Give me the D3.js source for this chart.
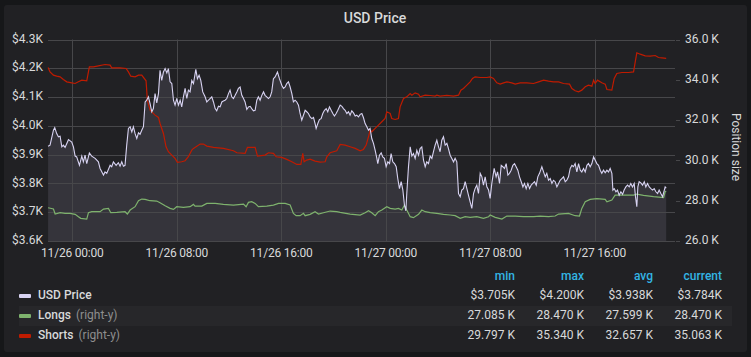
<!DOCTYPE html>
<html><head><meta charset="utf-8">
<script src="https://cdn.jsdelivr.net/npm/d3@7"></script>
<style>
html,body{margin:0;padding:0;background:#161719;}
svg{display:block;font-family:Roboto,"Noto Sans",sans-serif;}
</style></head>
<body><svg id="chart" width="751" height="357"></svg>
<script>
// ---------------- data (hours since 11/26 00:00, value) ----------------
const baseTime = Date.UTC(2021, 10, 26, 0, 0);
const windowStart = Date.UTC(2021, 10, 25, 22, 8);
const windowEnd = Date.UTC(2021, 10, 27, 22, 8);

const usdPrice = [
[-1.86,3929],[-1.71,3933],[-1.45,3985],[-1.35,3994],[-1.20,3973],[-1.07,3962],[-0.94,3964],[-0.81,3927],[-0.69,3933],[-0.56,3925],[-0.30,3952],[-0.05,3944],[0.08,3927],[0.21,3895],[0.33,3892],[0.54,3863],[0.72,3895],[0.84,3875],[0.97,3898],[1.10,3869],[1.30,3906],[1.48,3895],[1.74,3887],[1.99,3875],[2.12,3852],[2.38,3829],[2.50,3840],[2.63,3835],[2.89,3863],[3.01,3858],[3.14,3875],[3.35,3863],[3.52,3872],[3.65,3860],[3.78,3875],[3.91,3860],[4.03,3863],[4.16,3933],[4.29,3991],[4.42,3997],[4.55,3979],[4.67,3997],[4.80,3973],[4.93,3956],[5.06,3976],[5.18,3971],[5.31,3985],[5.44,3997],[5.57,4083],[5.69,4089],[5.82,4101],[5.95,4077],[6.08,4049],[6.20,4060],[6.33,4112],[6.46,4080],[6.59,4112],[6.71,4193],[6.84,4158],[6.97,4187],[7.10,4199],[7.23,4184],[7.35,4199],[7.48,4153],[7.61,4147],[7.74,4089],[7.86,4072],[7.99,4095],[8.12,4072],[8.25,4089],[8.37,4066],[8.50,4101],[8.63,4130],[8.76,4095],[8.88,4124],
[9.01,4118],[9.14,4158],[9.27,4147],[9.45,4196],[9.57,4164],[9.70,4176],[9.83,4158],[9.98,4118],[10.16,4101],[10.29,4083],[10.42,4089],[10.54,4095],[10.67,4101],[10.80,4083],[10.93,4060],[11.05,4052],[11.18,4068],[11.31,4066],[11.44,4083],[11.56,4086],[11.69,4089],[11.82,4095],[11.95,4112],[12.07,4124],[12.20,4101],[12.33,4095],[12.46,4106],[12.59,4118],[12.71,4130],[12.84,4135],[12.97,4106],[13.10,4095],[13.22,4083],[13.35,4057],[13.48,4066],[13.61,4068],[13.73,4060],[13.86,4052],[13.99,4054],[14.12,4089],[14.24,4101],[14.37,4089],[14.50,4106],[14.63,4118],[14.75,4106],[14.88,4101],[15.01,4095],[15.14,4101],[15.26,4118],[15.39,4164],[15.52,4170],[15.70,4187],[15.85,4164],[16.03,4141],[16.16,4130],[16.29,4135],[16.41,4147],[16.54,4153],[16.67,4135],[16.80,4112],[16.92,4083],[17.05,4089],[17.18,4083],[17.31,4072],[17.43,4043],[17.56,4020],[17.69,4037],[17.82,4054],[17.94,4049],[18.07,4043],[18.20,4031],[18.33,4025],[18.46,4029],[18.58,4008],[18.66,3991],[18.79,4008],[18.91,4022],[19.04,4025],[19.17,4043],[19.30,4054],[19.43,4060],[19.55,4049],[19.68,4066],[19.81,4054],[19.94,4043],[20.06,4034],[20.19,4043],[20.32,4054],
[20.50,4072],[20.63,4068],[20.75,4060],[20.88,4054],[21.01,4043],[21.14,4049],[21.26,4037],[21.39,4052],[21.52,4045],[21.65,4034],[21.77,4037],[21.90,4031],[22.03,4040],[22.16,4043],[22.28,4029],[22.41,4008],[22.54,3997],[22.67,3985],[22.79,3991],[22.92,3956],[23.05,3939],[23.18,3915],[23.31,3887],[23.38,3869],[23.51,3898],[23.64,3906],[23.76,3892],[23.89,3887],[24.02,3858],[24.15,3875],[24.28,3869],[24.40,3904],[24.53,3875],[24.66,3869],[24.79,3858],[24.91,3817],[25.04,3782],[25.17,3806],[25.30,3777],[25.42,3725],[25.53,3705],[25.60,3765],[25.73,3858],[25.86,3927],[25.99,3895],[26.11,3904],[26.24,3887],[26.37,3915],[26.50,3898],[26.62,3921],[26.75,3927],[26.88,3881],[27.01,3858],[27.13,3875],[27.26,3869],[27.39,3895],[27.52,3887],[27.64,3910],[27.77,3933],[27.90,3950],[28.03,3927],[28.15,3910],[28.28,3950],[28.41,3962],[28.54,3933],[28.67,3939],[28.79,3921],[28.92,3898],[29.05,3887],[29.18,3875],[29.30,3887],[29.43,3875],[29.56,3765],[29.69,3754],[29.81,3777],[29.94,3782],[30.07,3806],[30.20,3782],[30.32,3759],[30.45,3736],[30.58,3713],[30.71,3765],[30.83,3782],[30.96,3794],[31.09,3765],[31.22,3835],[31.35,3823],[31.47,3794],[31.60,3823],[31.73,3788],[31.86,3777],
[31.98,3748],[32.11,3800],[32.29,3852],[32.44,3823],[32.55,3840],[32.70,3800],[32.83,3863],[32.95,3858],[33.08,3852],[33.21,3869],[33.34,3829],[33.46,3835],[33.59,3846],[33.72,3863],[33.85,3869],[33.97,3858],[34.10,3846],[34.23,3823],[34.36,3806],[34.49,3788],[34.61,3800],[34.74,3782],[34.87,3800],[35.00,3782],[35.12,3794],[35.25,3800],[35.38,3806],[35.51,3794],[35.63,3823],[35.76,3835],[35.94,3858],[36.07,3840],[36.20,3823],[36.32,3835],[36.45,3811],[36.58,3817],[36.71,3800],[36.83,3811],[36.96,3806],[37.09,3788],[37.22,3800],[37.34,3811],[37.47,3817],[37.60,3823],[37.73,3806],[37.85,3811],[37.98,3823],[38.11,3852],[38.24,3863],[38.36,3858],[38.49,3869],[38.62,3840],[38.75,3869],[38.88,3846],[39.00,3840],[39.13,3852],[39.26,3840],[39.39,3863],[39.51,3869],[39.64,3858],[39.77,3869],[39.90,3892],[40.02,3881],[40.15,3869],[40.28,3863],[40.41,3846],[40.53,3835],[40.66,3846],[40.79,3837],[40.92,3846],[41.04,3840],[41.17,3852],[41.30,3835],[41.38,3777],[41.48,3782],[41.61,3771],[41.73,3777],[41.86,3759],[41.99,3771],[42.12,3762],[42.24,3777],[42.37,3788],[42.50,3794],[42.63,3788],[42.75,3800],[42.88,3788],[43.01,3800],[43.11,3754],[43.21,3719],[43.29,3788],[43.39,3806],[43.52,3802],[43.65,3794],[43.78,3806],[43.90,3788],[44.03,3800],[44.16,3788],[44.29,3782],[44.41,3777],[44.54,3782],[44.67,3771],[44.80,3765],[44.92,3777],[45.05,3765],[45.18,3754],[45.26,3767],[45.38,3788],[45.46,3784]
];

const longs = [
[-1.86,27652],[-1.45,27586],[-1.32,27338],[-0.94,27404],[-0.56,27371],[-0.18,27371],[0.21,27322],[0.46,27206],[0.64,27124],[1.10,27090],[1.23,27404],[1.48,27454],[2.12,27454],[2.38,27586],[2.76,27619],[2.94,27404],[3.40,27421],[4.03,27454],[4.21,27338],[4.42,27536],[4.80,27702],[5.06,27999],[5.31,28082],[5.57,28065],[5.95,27999],[6.46,27983],[6.71,27900],[7.10,27751],[7.48,27619],[7.74,27570],[7.99,27702],[8.50,27669],[9.01,27702],
[9.27,27817],[9.39,27735],[9.91,27735],[10.29,27867],[10.93,27867],[11.56,27817],[12.33,27784],[13.10,27834],[13.30,27702],[13.48,27916],[13.73,27949],[13.99,27867],[14.24,27702],[14.88,27735],[15.39,27784],[15.78,27867],[16.29,27867],[16.67,27784],[16.92,27371],[17.13,27256],[17.43,27256],[17.69,27371],[17.82,27256],[18.20,27322],[18.58,27454],[18.84,27338],[19.22,27404],[19.73,27487],[20.24,27454],
[20.50,27421],[21.26,27338],[22.03,27289],[22.41,27404],[22.67,27503],[22.92,27404],[23.18,27256],[23.43,27454],[23.69,27536],[24.07,27702],[24.33,27619],[24.71,27586],[24.96,27619],[25.22,27536],[25.42,27784],[25.60,27536],[25.86,27206],[26.11,27157],[26.50,27322],[26.75,27536],[27.01,27454],[27.39,27404],[27.90,27371],[28.41,27322],[28.92,27289],[29.30,27256],[29.69,27124],[30.07,27206],[30.45,27173],[30.96,27206],[31.47,27124],[31.86,27206],
[31.98,27289],[32.37,27173],[32.88,27090],[33.26,27239],[33.90,27239],[34.54,27206],[35.30,27206],[35.81,27239],[36.45,27206],[36.96,27239],[37.22,27338],[37.98,27371],[38.49,27256],[38.82,27239],[39.00,27619],[39.26,27949],[39.64,28065],[40.15,28099],[40.79,28065],[40.92,27949],[41.30,28032],[41.55,28280],[42.19,28280],[42.96,28280],[43.21,28330],[43.72,28264],[44.49,28198],[45.26,28148],[45.38,28445],[45.46,28470]
];

const shorts = [
[-1.86,34610],[-1.71,34395],[-1.45,34230],[-1.20,34180],[-0.94,34147],[-0.69,34015],[-0.43,33899],[-0.05,33850],[0.21,33817],[0.46,33899],[0.72,33982],[1.10,33949],[1.30,34643],[1.61,34643],[1.99,34693],[2.50,34759],[2.89,34726],[3.01,34593],[3.65,34593],[4.11,34560],[4.29,34395],[4.47,34180],[4.80,34147],[5.06,34230],[5.31,34230],[5.64,33949],[5.74,32990],[5.95,32495],[6.33,32247],[6.59,32131],[6.71,31833],[6.97,31338],[7.17,30677],[7.35,30429],[7.61,30263],[7.86,30098],[8.04,29900],[8.37,29933],[8.63,29983],[8.88,30181],[9.14,30511],
[9.27,30594],[9.78,30809],[10.03,30809],[10.29,30709],[10.80,30644],[11.56,30594],[12.33,30478],[12.59,30379],[13.22,30346],[13.40,30644],[13.99,30644],[14.17,30214],[14.75,30263],[15.01,30379],[15.39,30346],[15.60,30181],[16.03,30148],[16.41,30049],[16.80,29933],[17.18,29801],[17.49,29801],[17.64,30346],[17.74,29933],[17.94,30016],[18.20,30065],[18.58,29966],[18.97,29917],[19.35,29933],[19.48,30181],[19.73,30379],[20.24,30478],
[20.50,30792],[20.88,30759],[21.26,30677],[21.65,30594],[22.03,30478],[22.28,30544],[22.49,30759],[22.67,31172],[22.79,31503],[22.92,31420],[23.18,31586],[23.43,31751],[23.69,31916],[23.94,32081],[24.07,32412],[24.33,32329],[24.45,32081],[24.71,32032],[24.96,32081],[25.09,32660],[25.35,33073],[25.60,33156],[25.86,33321],[25.99,33238],[26.24,33354],[26.50,33288],[26.62,33156],[27.01,33238],[27.39,33222],[27.77,33189],[27.90,33238],[28.15,33189],[28.67,33222],[29.18,33189],[29.56,33238],[29.74,33486],[29.94,33569],[30.20,33734],[30.45,33899],[30.63,34065],[30.83,34147],[31.22,34114],[31.73,34114],
[31.98,34147],[32.24,34065],[32.49,33850],[32.75,33784],[33.01,33850],[33.26,33899],[33.64,33850],[33.90,33784],[34.28,33850],[34.79,33850],[35.30,33817],[35.69,33899],[36.07,33982],[36.45,33932],[36.83,33899],[37.22,33899],[37.60,33817],[38.06,33784],[38.24,33569],[38.49,33453],[38.75,33403],[39.00,33486],[39.26,33652],[39.51,33734],[39.77,33685],[39.90,33982],[40.02,33817],[40.20,33982],[40.53,33850],[40.79,33784],[40.92,33519],[41.30,33486],[41.48,34065],[41.68,34313],[42.07,34362],[42.58,34362],[42.96,34395],[43.09,34891],[43.21,35340],[43.47,35271],[43.85,35188],[44.24,35172],[44.62,35205],[44.87,35106],[45.13,35089],[45.46,35063]
];

const leftTicks = [3600, 3700, 3800, 3900, 4000, 4100, 4200, 4300];
const rightTicks = [26000, 28000, 30000, 32000, 34000, 36000];

const legendNames = ["USD Price", "Longs", "Shorts"];
const legendSuffix = ["", "(right-y)", "(right-y)"];
const legendColors = ["#d8d3f2", "#7eb26d", "#bf1b00"];
const legendHeaders = ["min", "max", "avg", "current"];
const legendMin = ["$3.705K", "27.085 K", "29.797 K"];
const legendMax = ["$4.200K", "28.470 K", "35.340 K"];
const legendAvg = ["$3.938K", "27.599 K", "32.657 K"];
const legendCurrent = ["$3.784K", "28.470 K", "35.063 K"];

// ---------------- drawing ----------------
const svg = d3.select("#chart");
const plot = {left: 48, right: 675, top: 39.5, bottom: 241};
const toDate = h => new Date(baseTime + h * 3600000);

svg.append("rect").attr("x", 4).attr("y", 5).attr("width", 743).attr("height", 347)
  .attr("rx", 3).attr("fill", "#212124");

svg.append("text").attr("x", 375).attr("y", 19).attr("text-anchor", "middle")
  .attr("dominant-baseline", "middle").attr("fill", "#d8d9da")
  .attr("font-size", 14).attr("font-weight", 500).text("USD Price");

const x = d3.scaleUtc().domain([new Date(windowStart), new Date(windowEnd)]).range([plot.left, plot.right]);
const yL = d3.scaleLinear().domain([3600, 4300]).range([plot.bottom, plot.top]);
const yR = d3.scaleLinear().domain([26000, 36000]).range([plot.bottom, plot.top]);

const gridColor = "#47474a";
const xTicks = x.ticks(d3.utcHour.every(8));

const area = d3.area().x(d => x(toDate(d[0]))).y0(plot.bottom).y1(d => yL(d[1]));
svg.append("path").datum(usdPrice).attr("d", area).attr("fill", "#d8d3f2").attr("fill-opacity", 0.11);

const grid = svg.append("g");
grid.selectAll("line.h").data(leftTicks).join("line")
  .attr("x1", plot.left).attr("x2", plot.right)
  .attr("y1", d => Math.round(yL(d)) + 0.5).attr("y2", d => Math.round(yL(d)) + 0.5)
  .attr("stroke", gridColor).attr("stroke-width", 1);
grid.selectAll("line.v").data(xTicks).join("line")
  .attr("x1", d => Math.round(x(d)) + 0.5).attr("x2", d => Math.round(x(d)) + 0.5)
  .attr("y1", plot.top).attr("y2", plot.bottom)
  .attr("stroke", gridColor).attr("stroke-width", 1);
grid.selectAll("line.r").data(rightTicks).join("line")
  .attr("x1", plot.right + 1).attr("x2", plot.right + 5)
  .attr("y1", d => Math.round(yR(d)) + 0.5).attr("y2", d => Math.round(yR(d)) + 0.5)
  .attr("stroke", gridColor);

const fmtL = d => "$" + (d / 1000).toFixed(1) + "K";
const fmtR = d => (d / 1000).toFixed(1) + " K";
svg.append("g").selectAll("text").data(leftTicks).join("text")
  .attr("x", 43).attr("y", d => yL(d)).attr("text-anchor", "end")
  .attr("dominant-baseline", "middle").attr("fill", "#d8d9da").attr("font-size", 12)
  .text(fmtL);
svg.append("g").selectAll("text").data(rightTicks).join("text")
  .attr("x", 685).attr("y", d => yR(d)).attr("text-anchor", "start")
  .attr("dominant-baseline", "middle").attr("fill", "#d8d9da").attr("font-size", 12)
  .text(fmtR);
const fmtX = d3.utcFormat("%m/%d %H:%M");
svg.append("g").selectAll("text").data(xTicks).join("text")
  .attr("x", d => x(d)).attr("y", 254).attr("text-anchor", "middle")
  .attr("dominant-baseline", "middle").attr("fill", "#d8d9da").attr("font-size", 12)
  .attr("letter-spacing", -0.2)
  .text(fmtX);
svg.append("text").attr("transform", "translate(735,147) rotate(90)")
  .attr("text-anchor", "middle").attr("dominant-baseline", "middle")
  .attr("fill", "#d8d9da").attr("font-size", 12).text("Position size");

const lineL = d3.line().x(d => x(toDate(d[0]))).y(d => yL(d[1]));
const lineR = d3.line().x(d => x(toDate(d[0]))).y(d => yR(d[1]));
svg.append("path").datum(longs).attr("d", lineR).attr("fill", "none")
  .attr("stroke", legendColors[1]).attr("stroke-width", 1.2);
svg.append("path").datum(shorts).attr("d", lineR).attr("fill", "none")
  .attr("stroke", legendColors[2]).attr("stroke-width", 1.2);
svg.append("path").datum(usdPrice).attr("d", lineL).attr("fill", "none")
  .attr("stroke", legendColors[0]).attr("stroke-width", 1.1);

const colX = [515, 584, 653, 722];
const lg = svg.append("g").attr("font-size", 12);
lg.selectAll("text.hd").data(legendHeaders).join("text")
  .attr("x", (d, i) => colX[i]).attr("y", 277).attr("text-anchor", "end")
  .attr("dominant-baseline", "middle").attr("fill", "#33b5e5").attr("font-weight", 500).text(d => d);
const rowY = [296, 316, 336];
lg.append("rect").attr("x", 19).attr("y", 306).attr("width", 713).attr("height", 20).attr("fill", "#27272a");
const cols = [legendMin, legendMax, legendAvg, legendCurrent];
legendNames.forEach((name, i) => {
  lg.append("rect").attr("x", 19).attr("y", rowY[i] - 2).attr("width", 12).attr("height", 4)
    .attr("rx", 1).attr("fill", legendColors[i]);
  const t = lg.append("text").attr("x", 38).attr("y", rowY[i])
    .attr("dominant-baseline", "middle").attr("fill", "#d8d9da");
  t.append("tspan").attr("font-weight", 500).text(name);
  if (legendSuffix[i]) t.append("tspan").attr("dx", 5).attr("fill", "#8e8e8e").text(legendSuffix[i]);
  cols.forEach((c, j) => {
    lg.append("text").attr("x", colX[j]).attr("y", rowY[i]).attr("text-anchor", "end")
      .attr("dominant-baseline", "middle").attr("fill", "#d8d9da").text(c[i]);
  });
});
</script></body></html>
